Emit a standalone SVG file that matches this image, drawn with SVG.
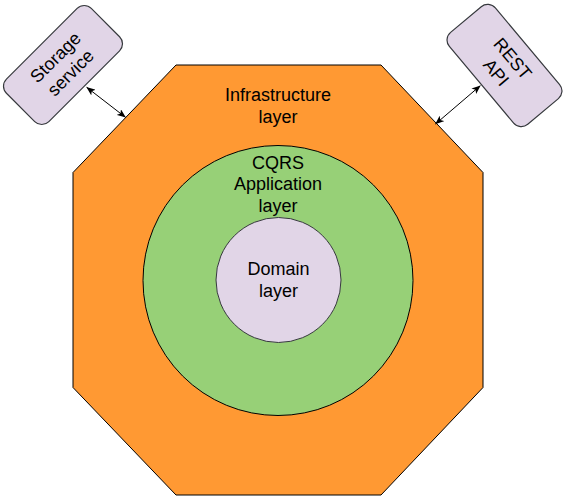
<svg xmlns="http://www.w3.org/2000/svg" width="567" height="497" viewBox="0 0 567 497">
<style>
text { font-family: "Liberation Sans", Arial, Helvetica, sans-serif; font-size: 18px; fill: #000; text-anchor: middle; }
.ext { fill: #e1d5e7; stroke: #36393d; stroke-width: 1.2; }
.conn { stroke: #000; stroke-width: 1; fill: none; marker-start: url(#arr); marker-end: url(#arr); }
</style>
<defs>
<marker id="arr" viewBox="0 0 10 8" markerUnits="userSpaceOnUse" markerWidth="9" markerHeight="7.2" refX="9.5" refY="4" orient="auto-start-reverse">
<path d="M0,0 L10,4 L0,8 L2.5,4 Z" fill="#000"/>
</marker>
</defs>
<rect width="567" height="497" fill="#fff"/>
<g id="infrastructure">
<polygon points="176,65 381,65 483,172.5 483,387.5 381,495 176,495 73,387.5 73,172.5" fill="#ff9933" stroke="#000" stroke-width="1"/>
<text x="278" y="101">Infrastructure</text>
<text x="278" y="122.5">layer</text>
</g>
<g id="application">
<circle cx="278" cy="280.5" r="135" fill="#97d077" stroke="#000" stroke-width="1"/>
<text x="278" y="168.5">CQRS</text>
<text x="278" y="190">Application</text>
<text x="278" y="211.5">layer</text>
</g>
<g id="domain">
<circle cx="278.5" cy="280" r="62.5" fill="#e1d5e7" stroke="#36393d" stroke-width="1"/>
<text x="278.5" y="275">Domain</text>
<text x="278.5" y="296.5">layer</text>
</g>
<g id="storage" transform="translate(63,65) rotate(-45)">
<rect class="ext" x="-60" y="-30" width="120" height="60" rx="10" ry="10"/>
<text x="0" y="-4.5">Storage</text>
<text x="0" y="17">service</text>
</g>
<g id="rest" transform="translate(504.5,65.5) rotate(50)">
<rect class="ext" x="-60" y="-30" width="120" height="60" rx="10" ry="10"/>
<text x="0" y="-4.5">REST</text>
<text x="0" y="17">API</text>
</g>
<g id="connectors">
<line class="conn" x1="86.7" y1="87.3" x2="125.5" y2="117.3"/>
<line class="conn" x1="480.3" y1="85.7" x2="435.5" y2="124"/>
</g>
</svg>
